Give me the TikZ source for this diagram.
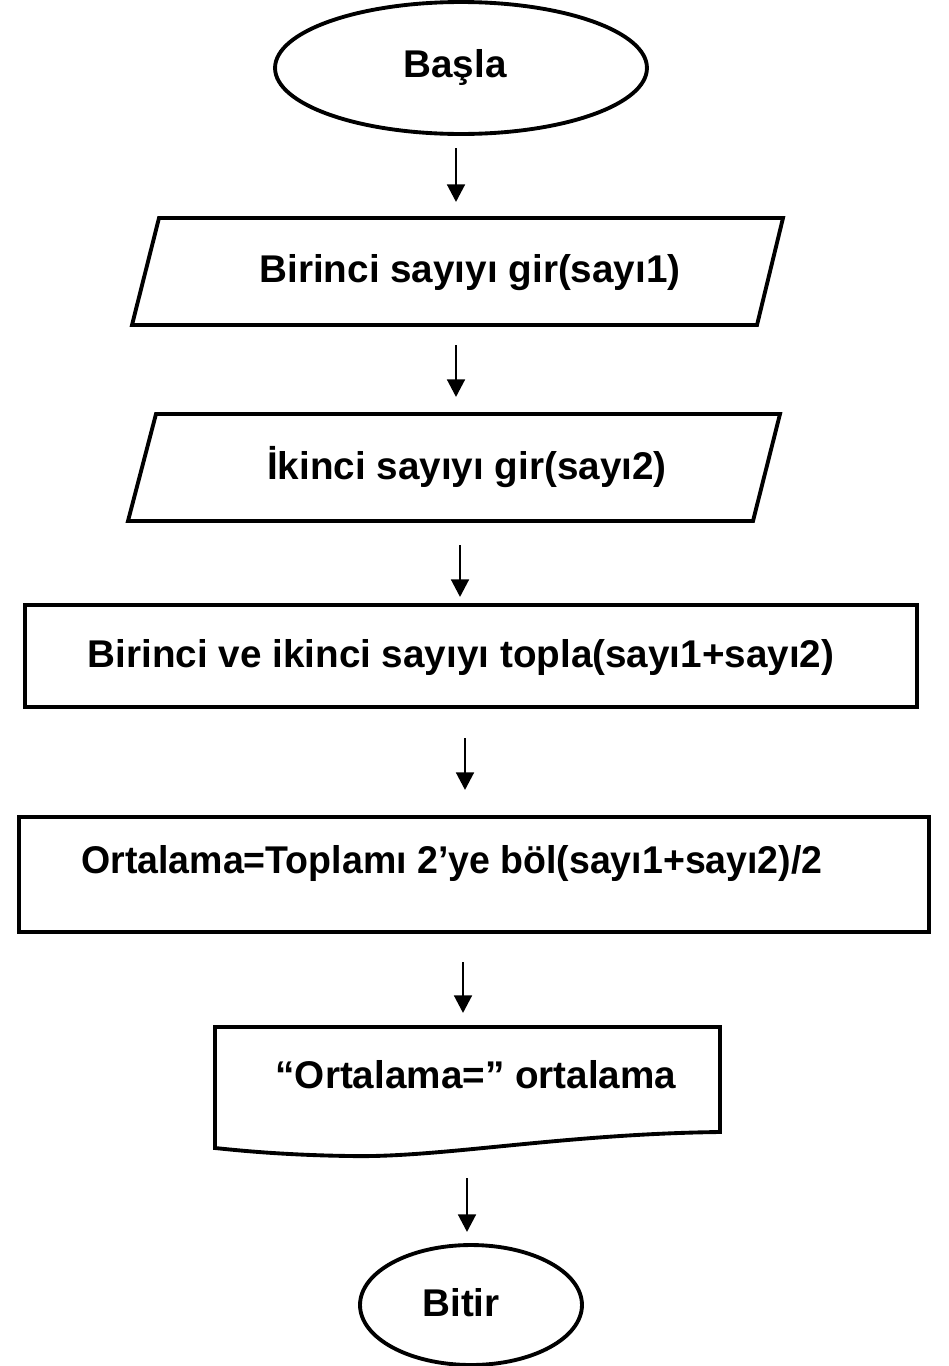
\documentclass[tikz,border=0pt]{standalone}
\usepackage{fontspec}
\setmainfont{Liberation Sans}
\usetikzlibrary{shapes.geometric, arrows.meta, positioning}

\begin{document}
\begin{tikzpicture}[x=0.02cm, y=-0.02cm, line width=2.2pt,
	every node/.style={font=\bfseries\fontsize{22}{26}\selectfont},
	terminal/.style={draw, ellipse, inner sep=0pt},
	flow/.style={line width=1.7pt, -{Triangle[width=10pt,length=10pt]}}]
			\useasboundingbox (0,0) rectangle (948,1366);
			\node[terminal, minimum width=7.44cm, minimum height=2.64cm] (basla) at (461,68) {};
			\node (baslayazi) at (455,68) {Başla};
			\draw (159,218) -- (783,218) -- (757,325) -- (132,325) -- cycle;
			\node (giris1) at (470,273) {Birinci sayıyı gir(sayı1)};
			\draw (156,414) -- (780,414) -- (753,521) -- (128,521) -- cycle;
			\node (giris2) at (467,467) {İkinci sayıyı gir(sayı2)};
			\draw (25,605) rectangle (917,707);
			\node (topla) at (461,657) {Birinci ve ikinci sayıyı topla(sayı1+sayı2)};
			\draw (19,817) rectangle (929,932);
			\node[xscale=0.97] (ortalama) at (452,863) {Ortalama=Toplamı 2’ye böl(sayı1+sayı2)/2};
			\draw (215,1027) -- (720,1027) -- (720,1132) .. controls (560,1134) and (440,1158) .. (350,1156) .. controls (280,1155) and (235,1150) .. (215,1148) -- cycle;
			\node (yaz) at (476,1075) {“Ortalama=” ortalama};
			\node[terminal, minimum width=4.44cm, minimum height=2.4cm] (bitir) at (471,1305) {};
			\node (bitiryazi) at (461,1303) {Bitir};
			\foreach \x/\ya/\yb [count=\i] in {456/148/202, 456/345/397, 460/545/597, 465/738/790, 463/962/1013, 467/1178/1232}
			{
				\coordinate (ok\i) at (\x,\ya);
				\coordinate (uc\i) at (\x,\yb);
				\draw[flow] (ok\i) -- (uc\i);
			}
\end{tikzpicture}
\end{document}
